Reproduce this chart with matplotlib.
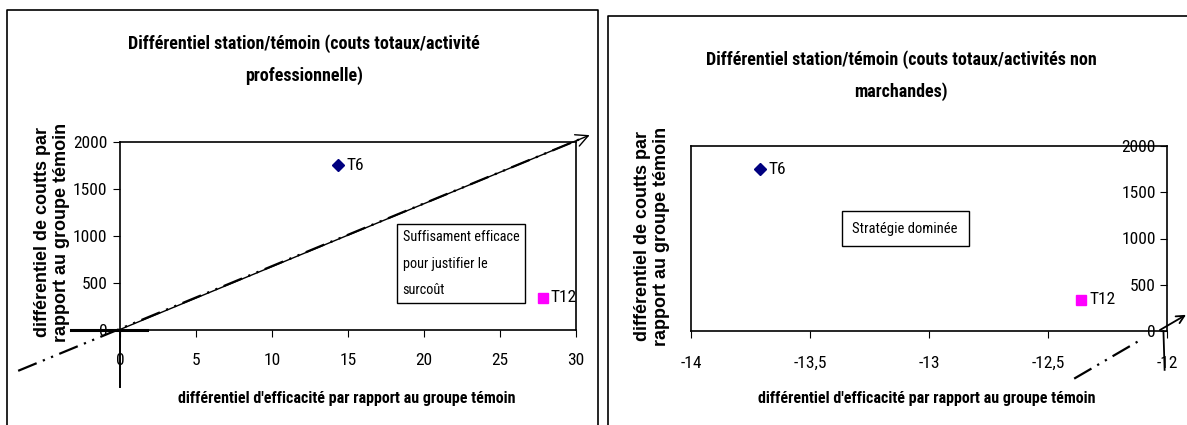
import matplotlib
matplotlib.use('Agg')
import matplotlib.pyplot as plt
from matplotlib.lines import Line2D

# -----------------------------
# Data
# -----------------------------
point_names = ['T6', 'T12']
cost_diff = [1750, 340]                 # differentiel de couts (both panels)
eff_pro = [14.35, 27.8]                 # activite professionnelle
eff_nonmarch = [-13.71, -12.36]         # activites non marchandes
point_colors = ['#000080', '#FF00FF']
point_markers = ['D', 's']

left_xticks = [0, 5, 10, 15, 20, 25, 30]
right_xticks = [-14, -13.5, -13, -12.5, -12]
right_xticklabels = ['-14', '-13,5', '-13', '-12,5', '-12']
yticks = [0, 500, 1000, 1500, 2000]

title_left = "Différentiel station/témoin (couts totaux/activité\nprofessionnelle)"
title_right = "Différentiel station/témoin (couts totaux/activités non\nmarchandes)"
xlabel = "différentiel d'efficacité par rapport au groupe témoin"
ylabel = "différentiel de coutts par\nrapport au groupe témoin"

# narrow face like the Excel original, with safe fallbacks
NARROW = ['Roboto Condensed', 'PT Sans Narrow', 'Liberation Sans', 'DejaVu Sans']
WIDE = ['Liberation Sans', 'DejaVu Sans']
plt.rcParams['font.family'] = NARROW

W, H = 1187, 425
fig = plt.figure(figsize=(W / 100, H / 100), dpi=100)

def fx(px):
    return px / W

def fy(py):
    return 1 - py / H

# -----------------------------
# panel frames (chart area borders)
# -----------------------------
for xs, ys in [([7, 7, 598, 598], [H, 10, 10, H]),
               ([608, 608, W], [H, 16, 16])]:
    fig.add_artist(Line2D([fx(v) for v in xs], [fy(v) for v in ys],
                          color='black', lw=1.2))

# -----------------------------
# left panel
# -----------------------------
axL = fig.add_axes([fx(120), fy(329.5), fx(576 - 120), (329.5 - 141.7) / H])
for n, x, y, c, m in zip(point_names, eff_pro, cost_diff, point_colors, point_markers):
    axL.plot(x, y, marker=m, color=c, ms=6 if m == 'D' else 6.5, ls='none')
    axL.annotate(n, (x, y), xytext=(6, 0), textcoords='offset points',
                 va='center', ha='left', fontsize=12.5)
axL.set_xlim(0, 30)
axL.set_ylim(0, 2000)
axL.set_xticks(left_xticks)
axL.set_yticks(yticks)
axL.tick_params(axis='x', direction='out', length=5, pad=12, labelsize=12.5)
axL.tick_params(axis='y', direction='out', length=5, pad=4, labelsize=12.5)
for s in axL.spines.values():
    s.set_linewidth(1.2)

# drawn cost-effectiveness plane lines
axL.plot([-6.7, 30.6], [-440, 2050], color='black', lw=1.6,
         dashes=(9, 3, 1, 3, 1, 3), clip_on=False)
axL.annotate('', xy=(30.9, 2070), xytext=(0, 0),
             arrowprops=dict(arrowstyle='->', lw=1.0, color='black',
                             mutation_scale=22, shrinkA=0, shrinkB=0),
             annotation_clip=False)
axL.plot([-3.2, 1.8], [0, 0], color='black', lw=2.2, clip_on=False)
axL.plot([0, 0], [0, -615], color='black', lw=1.4, clip_on=False)

axL.text(0.62, 0.53, 'Suffisament efficace\npour justifier le\nsurcoût',
         transform=axL.transAxes, ha='left', va='top', fontsize=10.3,
         linespacing=2.15,
         bbox=dict(boxstyle='square,pad=0.4', fc='white', ec='black', lw=1.0))

fig.text(fx(304), fy(59.5), title_left, ha='center', va='center',
         fontsize=13, fontweight='bold', linespacing=1.95)
fig.text(fx(347), fy(398), xlabel, ha='center', va='center',
         fontsize=11.5, fontweight='bold')
fig.text(fx(52), fy(232), ylabel, ha='center', va='center', rotation=90,
         fontsize=13, fontweight='bold', family=WIDE, linespacing=1.2)

# -----------------------------
# right panel
# -----------------------------
axR = fig.add_axes([fx(691), fy(331), fx(1167 - 691), (331 - 146) / H])
for n, x, y, c, m in zip(point_names, eff_nonmarch, cost_diff, point_colors, point_markers):
    axR.plot(x, y, marker=m, color=c, ms=6 if m == 'D' else 6.5, ls='none')
    axR.annotate(n, (x, y), xytext=(6, 0), textcoords='offset points',
                 va='center', ha='left', fontsize=12.5)
axR.set_xlim(-14, -12)
axR.set_ylim(0, 2000)
axR.set_xticks(right_xticks)
axR.set_xticklabels(right_xticklabels)
axR.set_yticks(yticks)
# y axis sits at the right edge (x crosses at -12), ticks/labels inside
axR.spines['left'].set_position(('axes', 1.0))
axR.spines['right'].set_position(('axes', 0.0))
axR.tick_params(axis='x', direction='out', length=5, pad=13, labelsize=12.5)
axR.tick_params(axis='y', direction='out', length=5, pad=3, labelsize=12.5)
for s in axR.spines.values():
    s.set_linewidth(1.2)

axR.plot([-12.39, -12.12], [-515, -110], color='black', lw=1.6,
         dashes=(9, 3, 1, 3, 1, 3), clip_on=False)
axR.plot([-12.015, -12.01], [0, -420], color='black', lw=1.3, clip_on=False)
axR.annotate('', xy=(-11.92, 175), xytext=(-12.03, 10),
             arrowprops=dict(arrowstyle='->', lw=1.3, color='black',
                             mutation_scale=14, shrinkA=0, shrinkB=0),
             annotation_clip=False)

axR.text(0.45, 0.554, 'Stratégie dominée', transform=axR.transAxes,
         ha='center', va='center', fontsize=10.5,
         bbox=dict(boxstyle='square,pad=0.75', fc='white', ec='black', lw=1.0))

fig.text(fx(901), fy(75.5), title_right, ha='center', va='center',
         fontsize=13, fontweight='bold', linespacing=1.85)
fig.text(fx(927), fy(398), xlabel, ha='center', va='center',
         fontsize=11.5, fontweight='bold')
fig.text(fx(652), fy(236), ylabel, ha='center', va='center', rotation=90,
         fontsize=13, fontweight='bold', family=WIDE, linespacing=1.2)

fig.savefig('out.png', dpi=100)
